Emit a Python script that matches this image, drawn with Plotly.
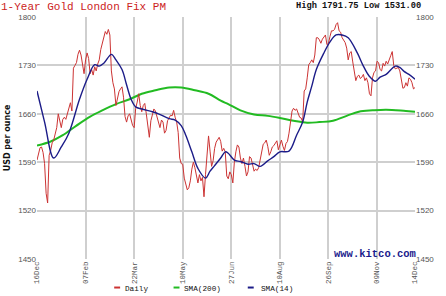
import plotly.graph_objects as go

# ---- data ----
daily = [
    1593, 1603, 1611, 1612, 1604, 1588, 1545, 1531.00, 1600, 1607,
    1618, 1622, 1632, 1640, 1660, 1650, 1640, 1652, 1655, 1652,
    1660, 1672, 1676, 1664, 1726, 1730, 1734, 1746, 1752, 1745,
    1728, 1718, 1738, 1748, 1740, 1718, 1724, 1716, 1728, 1722,
    1732, 1738, 1753, 1762, 1772, 1779, 1775, 1782, 1774, 1722,
    1705, 1696, 1672, 1682, 1692, 1696, 1699, 1684, 1656, 1648,
    1657, 1660, 1652, 1643, 1640, 1668, 1677, 1689, 1672, 1663,
    1672, 1675, 1660, 1640, 1626, 1650, 1660, 1667, 1664, 1656,
    1650, 1640, 1651, 1648, 1632, 1636, 1650, 1654, 1658, 1657,
    1665, 1655, 1648, 1633, 1596, 1588, 1587, 1567, 1558, 1550,
    1553, 1563, 1580, 1590, 1582, 1572, 1560, 1572, 1563, 1568,
    1540, 1572, 1605, 1628, 1606, 1584, 1592, 1610, 1619, 1622,
    1626, 1620, 1606, 1610, 1605, 1570, 1566, 1576, 1572, 1560,
    1590, 1605, 1615, 1612, 1596, 1588, 1596, 1584, 1570, 1576,
    1598, 1596, 1584, 1577, 1580, 1578, 1582, 1592, 1606, 1616,
    1618, 1622, 1613, 1600, 1605, 1612, 1614, 1617, 1621, 1608,
    1615, 1622, 1613, 1607, 1617, 1620, 1632, 1648, 1664, 1668,
    1665, 1667, 1660, 1655, 1654, 1648, 1693, 1696, 1712, 1731,
    1734, 1738, 1734, 1745, 1770, 1770, 1767, 1762, 1768, 1772,
    1774, 1760, 1762, 1772, 1780, 1780, 1782, 1789, 1791.75, 1780,
    1778, 1770, 1767, 1763, 1755, 1738, 1748, 1750, 1735, 1720,
    1708, 1714, 1716, 1711, 1713, 1717, 1708, 1712, 1705, 1689,
    1686, 1712, 1720, 1722, 1736, 1734, 1724, 1722, 1733, 1729,
    1736, 1732, 1740, 1744, 1750, 1730, 1725, 1726, 1727, 1722,
    1710, 1697, 1698, 1705, 1700, 1712, 1710, 1705, 1696, 1698,
]
day_index = list(range(len(daily)))

sma14_idx = [0, 5, 11, 16, 21, 28, 33, 38, 41, 44, 49, 52, 56, 59, 62, 65, 69, 76,
             80, 87, 91, 95, 98, 102, 106, 111, 114, 117, 121, 124, 126, 130, 134,
             139, 143, 147, 152, 156, 160, 166, 171, 175, 178, 181, 184, 189, 193,
             197, 201, 205, 211, 215, 219, 223, 226, 230, 236, 239, 242, 245, 249]
sma14_val = [1693, 1648, 1596, 1612, 1632, 1681, 1710, 1731, 1729, 1733, 1746, 1738,
             1724, 1702, 1681, 1670, 1667, 1663, 1660, 1653, 1651, 1643, 1629, 1605,
             1581, 1567, 1577, 1585, 1596, 1605, 1603, 1593, 1591, 1587, 1588, 1584,
             1592, 1598, 1605, 1606, 1629, 1648, 1677, 1700, 1724, 1748, 1764, 1774,
             1774, 1770, 1748, 1729, 1714, 1707, 1713, 1717, 1729, 1727, 1721, 1717,
             1710]

sma200_idx = [0, 9, 17, 26, 35, 43, 52, 61, 69, 78, 87, 95, 104, 113, 121, 126, 134,
              143, 152, 160, 169, 178, 186, 195, 204, 212, 221, 230, 243, 249]
sma200_val = [1614, 1620, 1629, 1643, 1656, 1665, 1674, 1681, 1689, 1694, 1698, 1698,
              1694, 1689, 1679, 1674, 1665, 1659, 1657, 1654, 1650, 1647, 1648, 1650,
              1657, 1663, 1665, 1666, 1664, 1663]

tick_idx = [0, 32, 64, 96, 128, 160, 192, 224, 249]
tick_text = ["16Dec", "07Feb", "22Mar", "10May", "27Jun", "10Aug", "26Sep", "09Nov", "14Dec"]
y_ticks = [1450, 1520, 1590, 1660, 1730, 1800]

RED = "#cc3333"
GREEN = "#22bb22"
BLUE = "#1c1c88"

fig = go.Figure()
fig.add_trace(go.Scatter(x=sma200_idx, y=sma200_val, mode="lines",
                         line=dict(color=GREEN, width=2, shape="spline"), name="SMA(200)"))
fig.add_trace(go.Scatter(x=day_index, y=daily, mode="lines",
                         line=dict(color=RED, width=1), name="Daily"))
fig.add_trace(go.Scatter(x=sma14_idx, y=sma14_val, mode="lines",
                         line=dict(color=BLUE, width=1.4, shape="spline"), name="SMA(14)"))
fig.add_trace(go.Scatter(x=[None], y=[None], yaxis="y2", showlegend=False))

tickfont = dict(family="Liberation Sans", size=8, color="#555555")
fig.update_layout(
    width=446, height=296,
    margin=dict(l=37, r=27, t=17, b=33),
    paper_bgcolor="white", plot_bgcolor="white",
    showlegend=False,
    xaxis=dict(range=[0, 249], tickvals=tick_idx, ticktext=tick_text, tickangle=-90,
               showgrid=True, gridcolor="#cfcfcf", gridwidth=1.5, zeroline=False,
               tickfont=dict(family="Liberation Mono", size=7.5, color="#555555"),
               ticks="", showline=False),
    yaxis=dict(range=[1450, 1800], tickvals=y_ticks, showgrid=True, gridcolor="#cfcfcf",
               gridwidth=1.5, zeroline=False, tickfont=tickfont, ticks=""),
    yaxis2=dict(range=[1450, 1800], tickvals=y_ticks, overlaying="y", side="right",
                showgrid=False, zeroline=False, tickfont=tickfont, ticks=""),
)

def px(xp):
    return (xp - 37) / 382.0

def py(yp):
    return (263 - yp) / 246.0

hi, lo = max(daily), min(daily)
ann = [
    dict(text="1-Year Gold London Fix PM", x=px(0), y=py(0), xanchor="left", yanchor="top",
         font=dict(family="Liberation Mono", size=11, color="#cc2222")),
    dict(text=f"<b>High {hi:.2f} Low {lo:.2f}</b>", x=px(426), y=py(0), xanchor="right",
         yanchor="top", font=dict(family="Liberation Mono", size=8.7, color="#111111")),
    dict(text="<b>USD per ounce</b>", x=px(7), y=py(140), textangle=-90, xanchor="center",
         yanchor="middle", font=dict(family="DejaVu Sans", size=8, color="#111111")),
    dict(text="<b>www.kitco.com</b>", x=px(421), y=py(258), xanchor="right", yanchor="middle",
         font=dict(family="Liberation Mono", size=10.5, color="#1a1a8c")),
    dict(text="Daily", x=px(125), y=py(293), xanchor="left", yanchor="middle",
         font=dict(family="Liberation Mono", size=7.7, color="#111111")),
    dict(text="SMA(200)", x=px(185), y=py(293), xanchor="left", yanchor="middle",
         font=dict(family="Liberation Mono", size=7.7, color="#111111")),
    dict(text="SMA(14)", x=px(262), y=py(293), xanchor="left", yanchor="middle",
         font=dict(family="Liberation Mono", size=7.7, color="#111111")),
]
for a in ann:
    a.update(xref="paper", yref="paper", showarrow=False, borderpad=0)
fig.update_layout(annotations=ann)

shapes = []
for x0, c in [(115, RED), (175, GREEN), (250, BLUE)]:
    shapes.append(dict(type="line", xref="paper", yref="paper", x0=px(x0), x1=px(x0 + 6),
                       y0=py(292), y1=py(292), line=dict(color=c, width=2)))
fig.update_layout(shapes=shapes)

fig.write_html("out.html")
